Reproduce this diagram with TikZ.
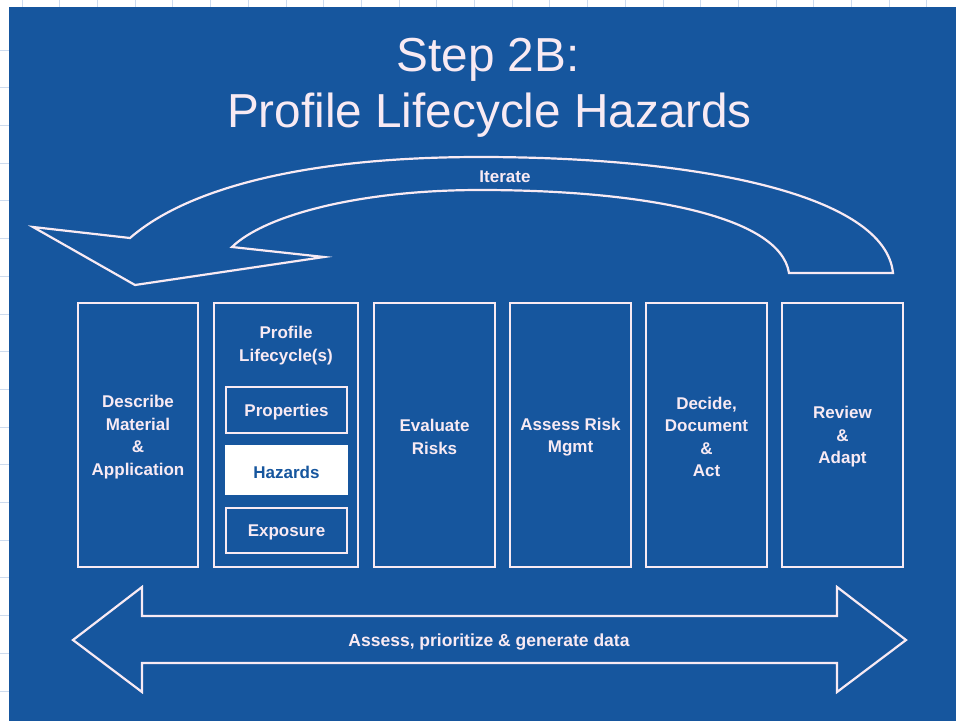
\documentclass[tikz,border=0pt]{standalone}
\usepackage{fontspec}
\setmainfont{Liberation Sans}
\definecolor{slideblue}{RGB}{22,86,158}
\definecolor{edge}{RGB}{248,234,243}
\definecolor{gridline}{RGB}{205,219,238}
\tikzset{
  outline/.style={draw=edge, line width=2.2pt, line join=miter},
  label/.style={text=edge, font=\fontsize{17}{22.5}\selectfont\bfseries, align=center, yshift=-2pt},
  stage/.style={outline, minimum width=121pt, minimum height=264pt, inner sep=0pt},
  substage/.style={outline, minimum width=121pt, inner sep=0pt},
}
\begin{document}
\begin{tikzpicture}[x=1pt, y=-1pt]
\useasboundingbox (0,0) rectangle (956,721);
% paper with faint grid behind the slide
\fill[white] (0,0) rectangle (956,721);
\foreach \k in {0,...,24} {
  \draw[gridline, line width=0.8pt] ({22+37.7*\k},0) -- ({22+37.7*\k},7);
}
\foreach \k in {0,...,17} {
  \draw[gridline, line width=0.8pt] (0,{50+37.7*\k}) -- (9,{50+37.7*\k});
}
\fill[slideblue] (9,7) rectangle (956,721);

% title
\node[text=edge, font=\fontsize{47.7}{50}\selectfont, anchor=base] (t1) at (488,71) {Step 2B:};
\node[text=edge, font=\fontsize{47.7}{50}\selectfont, anchor=base] (t2) at (489.5,127) {Profile Lifecycle Hazards};

% curved "Iterate" arrow
\draw[outline] (893,273)
  .. controls (885,195) and (700,157) .. (480,157)
  .. controls (300,157) and (185,190) .. (130,238)
  -- (33,227) -- (135,285) -- (324,257) -- (232,247)
  .. controls (265,215) and (360,190) .. (480,190)
  .. controls (640,190) and (780,215) .. (789,273)
  -- cycle;
\node[label] (iter) at (505,175) {Iterate};

% process stages
\node[stage, minimum width=120pt] (s1) at (138,435) {};
\node[label] at (s1.center) {Describe\\Material\\\&\\Application};
\node[stage, minimum width=144pt] (s2) at (286,435) {};
\node[label] (s2t) at (286,343.5) {Profile\\Lifecycle(s)};
\node[substage, minimum height=46pt] (p1) at (286.5,410) {};
\node[label] at (p1.center) {Properties};
\node[substage, minimum height=48pt, fill=white, draw=white] (p2) at (286.5,470) {};
\node[label, text=slideblue] at (p2.center) {Hazards};
\node[substage, minimum height=45pt] (p3) at (286.5,530.5) {};
\node[label] at (p3.center) {Exposure};
\node[stage] (s3) at (434.5,435) {};
\node[label] at (s3.center) {Evaluate\\Risks};
\node[stage] (s4) at (570.5,435) {};
\node[label] at (s4.center) {Assess Risk\\Mgmt};
\node[stage] (s5) at (706.5,435) {};
\node[label] at (s5.center) {Decide,\\Document\\\&\\Act};
\node[stage] (s6) at (842.5,435) {};
\node[label] at (s6.center) {Review\\\&\\Adapt};

% double-headed arrow along the bottom
\draw[outline] (73,640) -- (142,587) -- (142,616) -- (837,616) -- (837,587)
  -- (906,640) -- (837,692) -- (837,663) -- (142,663) -- (142,692) -- cycle;
\node[label, font=\fontsize{17.5}{22}\selectfont\bfseries] (data) at (489,640) {Assess, prioritize \& generate data};
\end{tikzpicture}
\end{document}
